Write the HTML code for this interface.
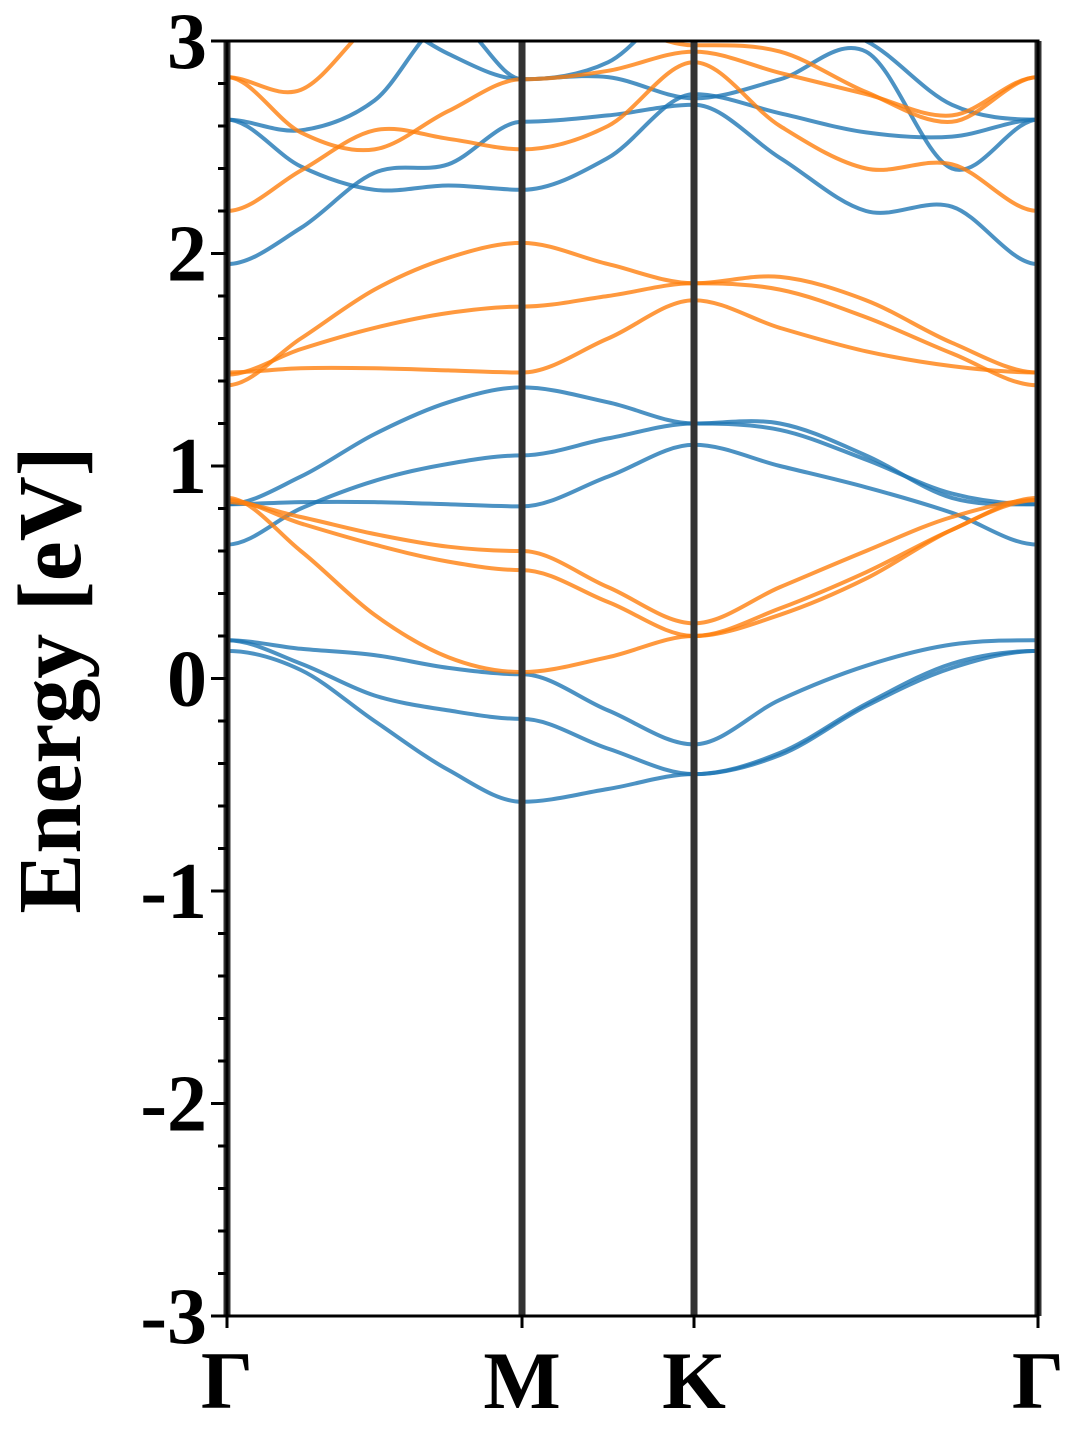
<!DOCTYPE html>
<html><head><meta charset="utf-8">
<style>
html,body{margin:0;padding:0;background:#fff;}
svg{display:block;}
text{font-family:"Liberation Serif",serif;font-weight:bold;fill:#000;}
</style></head>
<body>
<svg id="chart" width="1080" height="1440" viewBox="0 0 1080 1440" xmlns="http://www.w3.org/2000/svg">
<defs><clipPath id="plotclip"><rect x="227" y="41" width="811" height="1275"/></clipPath></defs>
<g id="bands" clip-path="url(#plotclip)"></g>
<g id="axes"></g>
<text x="0" y="0" font-size="90" text-anchor="middle" transform="translate(80,680) rotate(-90)">Energy [eV]</text>
</svg>
<script>
const kLabels = ["Γ","M","K","Γ"];
const kNodes = [0, 1, 1.583, 2.749];
const kSamples = [0, 0.25, 0.5, 0.75, 1, 1.2915, 1.583, 1.8745, 2.166, 2.4575, 2.749];
const yTicks = [-3,-2,-1,0,1,2,3];
const yTickLabels = ["-3","-2","-1","0","1","2","3"];
const blueBands = [
  [0.13, 0.04, -0.20, -0.43, -0.58, -0.52, -0.45, -0.36, -0.13, 0.05, 0.13],
  [0.18, 0.07, -0.08, -0.15, -0.19, -0.33, -0.45, -0.35, -0.12, 0.07, 0.13],
  [0.18, 0.14, 0.11, 0.05, 0.02, -0.15, -0.31, -0.10, 0.06, 0.16, 0.18],
  [0.82, 0.83, 0.83, 0.82, 0.81, 0.95, 1.10, 1.00, 0.90, 0.78, 0.63],
  [0.63, 0.80, 0.93, 1.01, 1.05, 1.13, 1.20, 1.20, 1.05, 0.85, 0.82],
  [0.82, 0.95, 1.15, 1.30, 1.37, 1.30, 1.20, 1.17, 1.03, 0.87, 0.82],
  [1.95, 2.12, 2.38, 2.42, 2.62, 2.65, 2.70, 2.45, 2.20, 2.22, 1.95],
  [2.63, 2.41, 2.30, 2.32, 2.30, 2.45, 2.75, 2.66, 2.57, 2.55, 2.63],
  [2.63, 2.58, 2.72, 3.10, 2.82, 2.83, 2.73, 2.82, 2.95, 2.40, 2.63],
  [3.40, 3.30, 3.15, 2.94, 2.82, 2.90, 3.20, 3.10, 3.00, 2.70, 2.63]
];
const orangeBands = [
  [0.85, 0.60, 0.30, 0.10, 0.03, 0.10, 0.20, 0.33, 0.50, 0.70, 0.85],
  [0.84, 0.73, 0.63, 0.55, 0.51, 0.36, 0.20, 0.30, 0.47, 0.70, 0.84],
  [0.83, 0.76, 0.68, 0.62, 0.60, 0.43, 0.26, 0.43, 0.60, 0.76, 0.84],
  [1.44, 1.46, 1.46, 1.45, 1.44, 1.60, 1.78, 1.65, 1.54, 1.47, 1.44],
  [1.43, 1.55, 1.65, 1.72, 1.75, 1.80, 1.86, 1.83, 1.70, 1.53, 1.38],
  [1.38, 1.60, 1.83, 1.98, 2.05, 1.95, 1.86, 1.89, 1.78, 1.58, 1.44],
  [2.20, 2.39, 2.58, 2.54, 2.49, 2.60, 2.90, 2.60, 2.40, 2.42, 2.20],
  [2.83, 2.57, 2.49, 2.67, 2.82, 2.86, 2.95, 2.85, 2.75, 2.65, 2.83],
  [2.83, 2.77, 3.10, 3.30, 3.20, 3.10, 2.98, 2.95, 2.76, 2.62, 2.83]
];

const X0 = 227, X1 = 1038, Y0 = 1316, Y1 = 41;
const kMax = kNodes[kNodes.length-1];
const xs = k => X0 + (k / kMax) * (X1 - X0);
const ys = e => Y0 - (e + 3) / 6 * (Y0 - Y1);
const NS = "http://www.w3.org/2000/svg";

function curvePath(vals){
  const p = vals.map((v,i)=>[xs(kSamples[i]), ys(v)]);
  let d = "M" + p[0][0].toFixed(1) + "," + p[0][1].toFixed(1);
  for(let i=0;i<p.length-1;i++){
    const a = p[Math.max(i-1,0)], b = p[i], c = p[i+1], e = p[Math.min(i+2,p.length-1)];
    const isNodeB = kNodes.includes(kSamples[i]);
    const isNodeC = kNodes.includes(kSamples[i+1]);
    let t1x = (c[0]-a[0])/6, t1y = (c[1]-a[1])/6;
    let t2x = (e[0]-b[0])/6, t2y = (e[1]-b[1])/6;
    if(isNodeB){ t1x=(c[0]-b[0])/3; t1y=0; }
    if(isNodeC){ t2x=(c[0]-b[0])/3; t2y=0; }
    d += " C" + (b[0]+t1x).toFixed(1) + "," + (b[1]+t1y).toFixed(1) + " " +
         (c[0]-t2x).toFixed(1) + "," + (c[1]-t2y).toFixed(1) + " " +
         c[0].toFixed(1) + "," + c[1].toFixed(1);
  }
  return d;
}
const bandsG = document.getElementById("bands");
function drawSet(set, color, name){
  set.forEach((vals, i)=>{
    const path = document.createElementNS(NS, "path");
    path.setAttribute("d", curvePath(vals));
    path.setAttribute("fill", "none");
    path.setAttribute("stroke", color);
    path.setAttribute("stroke-opacity", "0.8");
    path.setAttribute("stroke-width", "4");
    
    
    bandsG.appendChild(path);
  });
}
drawSet(blueBands, "#1f77b4", "blue-band");
drawSet(orangeBands, "#ff7f0e", "orange-band");

const axes = document.getElementById("axes");
function mk(tag, attrs){ const el = document.createElementNS(NS, tag); for(const k in attrs) el.setAttribute(k, attrs[k]); return el; }
kNodes.forEach((k,i)=>{
  const ln = mk("line",{x1:xs(k),x2:xs(k),y1:Y1,y2:Y0,stroke:"#333",'stroke-width':7});
  
  
  axes.appendChild(ln);
  const t = mk("text",{x:xs(k),y:1408,'font-size':82,'text-anchor':'middle'});
  t.textContent = kLabels[i];
  
  
  axes.appendChild(t);
  const tk = mk("line",{x1:xs(k),x2:xs(k),y1:Y0,y2:Y0+12,stroke:"#000",'stroke-width':3});
  
  
  axes.appendChild(tk);
});
const frame = mk("rect",{x:X0,y:Y1,width:X1-X0,height:Y0-Y1,fill:"none",stroke:"#000",'stroke-width':3});


axes.appendChild(frame);
for(let m=-30;m<=30;m+=2){
  const e = m/10;
  const major = m % 10 === 0;
  const tk = mk("line",{x1:X0-(major?16:9),x2:X0,y1:ys(e),y2:ys(e),stroke:"#000",'stroke-width':3});
  
  
  axes.appendChild(tk);
}
yTicks.forEach((v,i)=>{
  const t = mk("text",{x:207,y:ys(v)+27,'font-size':80,'text-anchor':'end'});
  t.textContent = yTickLabels[i];
  
  
  axes.appendChild(t);
});
</script>
</body></html>
